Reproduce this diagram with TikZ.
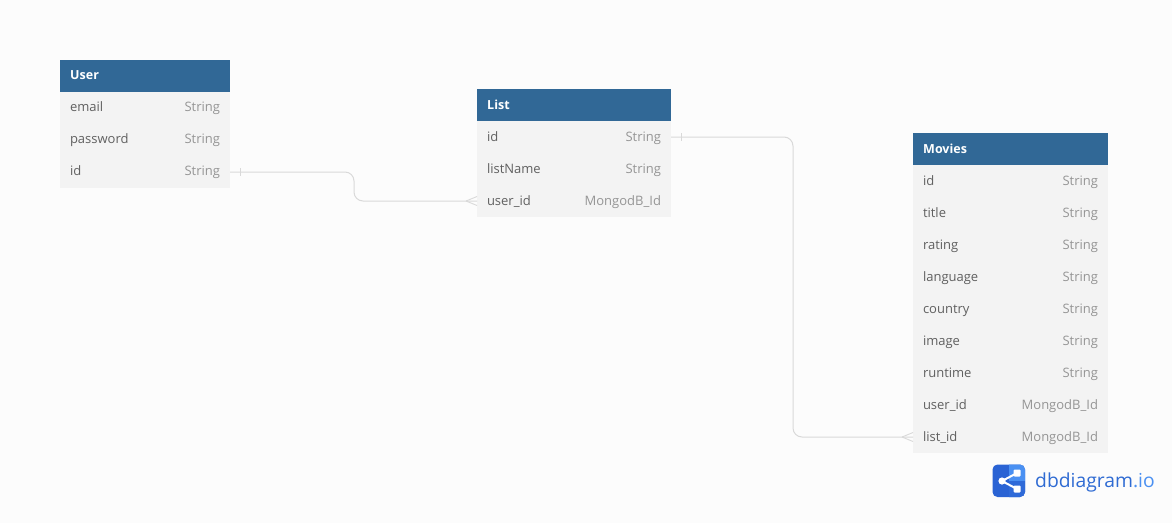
\documentclass[tikz,border=0pt]{standalone}
\usepackage{fontspec}
\setmainfont{Open Sans}
\definecolor{bgc}{HTML}{FCFCFC}
\definecolor{headc}{HTML}{316896}
\definecolor{rowc}{HTML}{F3F3F3}
\definecolor{namec}{HTML}{606060}
\definecolor{typec}{HTML}{959595}
\definecolor{linkc}{HTML}{D9D9D9}
\definecolor{logod}{HTML}{2A63D4}
\definecolor{logol}{HTML}{4A90F2}
\definecolor{logot}{HTML}{2F6BD3}
\definecolor{logoi}{HTML}{4A90F2}
\tikzset{
  x=1pt,y=-1pt,
  rowbox/.style={draw=none,fill=rowc,inner sep=0pt,minimum height=32pt,anchor=north west,outer sep=0pt},
  headbox/.style={rowbox,fill=headc},
  headtext/.style={anchor=base west,inner sep=0pt,text=white,font=\fontsize{12.5pt}{15pt}\selectfont\bfseries},
  nametext/.style={anchor=base west,inner sep=0pt,text=namec,font=\fontsize{13pt}{16pt}\selectfont},
  typetext/.style={anchor=base east,inner sep=0pt,text=typec,font=\fontsize{13pt}{16pt}\selectfont},
  link/.style={draw=linkc,line width=1pt,rounded corners=9pt},
  crow/.style={draw=linkc,line width=0.9pt},
}
\def\tshift{-4.5pt}
% \tablehead{id}{x}{y}{width}{title}
\newcommand{\tablehead}[5]{%
  \node[headbox,minimum width=#4pt] (#1) at (#2,#3) {};
  \node[headtext,name=#1-t] at ([xshift=10pt,yshift=\tshift]#1.west) {#5};
}
% \tablerow{id}{x}{y}{width}{name}{type}
\newcommand{\tablerow}[6]{%
  \node[rowbox,minimum width=#4pt] (#1) at (#2,#3) {};
  \node[nametext,name=#1-n] at ([xshift=9.8pt,yshift=\tshift]#1.west) {#5};
  \node[typetext,name=#1-y] at ([xshift=-9.8pt,yshift=\tshift]#1.east) {#6};
}
\begin{document}
\begin{tikzpicture}
\useasboundingbox (0,0) rectangle (1172,523);
\fill[bgc] (0,0) rectangle (1172,523);

% User
\def\tshift{-3.6pt}
\tablehead{u}{60}{60}{170}{User}
\tablerow{u1}{60}{92}{170}{email}{String}
\tablerow{u2}{60}{124}{170}{password}{String}
\tablerow{u3}{60}{156}{170}{id}{String}
\def\tshift{-4.5pt}

% List
\tablehead{l}{477}{89}{194}{List}
\tablerow{l1}{477}{121}{194}{id}{String}
\tablerow{l2}{477}{153}{194}{listName}{String}
\tablerow{l3}{477}{185}{194}{user\_id}{MongodB\_Id}

% Movies
\tablehead{m}{913}{133}{195}{Movies}
\tablerow{m1}{913}{165}{195}{id}{String}
\tablerow{m2}{913}{197}{195}{title}{String}
\tablerow{m3}{913}{229}{195}{rating}{String}
\tablerow{m4}{913}{261}{195}{language}{String}
\tablerow{m5}{913}{293}{195}{country}{String}
\tablerow{m6}{913}{325}{195}{image}{String}
\tablerow{m7}{913}{357}{195}{runtime}{String}
\tablerow{m8}{913}{389}{195}{user\_id}{MongodB\_Id}
\tablerow{m9}{913}{421}{195}{list\_id}{MongodB\_Id}

% Connectors
\draw[link] (u3.east) -- ++(124,0) |- (l3.west);
\draw[crow] ([xshift=10pt,yshift=4pt]u3.east) -- ++(0,8);
\draw[crow] ([xshift=-11pt]l3.west) -- ([yshift=-4.5pt]l3.west);
\draw[crow] ([xshift=-11pt]l3.west) -- ([yshift=4.5pt]l3.west);

\draw[link] (l1.east) -- ++(122,0) |- (m9.west);
\draw[crow] ([xshift=10pt,yshift=4pt]l1.east) -- ++(0,8);
\draw[crow] ([xshift=-11pt]m9.west) -- ([yshift=-4.5pt]m9.west);
\draw[crow] ([xshift=-11pt]m9.west) -- ([yshift=4.5pt]m9.west);

% Logo
\begin{scope}
  \clip[rounded corners=5pt] (992.5,464.5) rectangle (1025,497);
  \fill[logod] (992,464) rectangle (1026,498);
  \fill[logol] (1009,464) rectangle (1026,480.5);
  \fill[logod!85!logol] (1009,480.5) rectangle (1026,498);
\end{scope}
\draw[white,line width=2pt] (1017,473) -- (1002,481) -- (1017,489);
\fill[white] (1002,481) circle (3.6);
\fill[white,rounded corners=1pt] (1013.5,469.5) rectangle (1020.5,476.5);
\fill[white,rounded corners=1pt] (1013.5,485.5) rectangle (1020.5,492.5);
\node[anchor=base west,inner sep=0pt,font=\fontsize{19.3pt}{22pt}\selectfont] (logo) at (1035,487)
  {\textcolor{logot}{dbdiagram}\textcolor{logoi}{.io}};
\end{tikzpicture}
\end{document}
